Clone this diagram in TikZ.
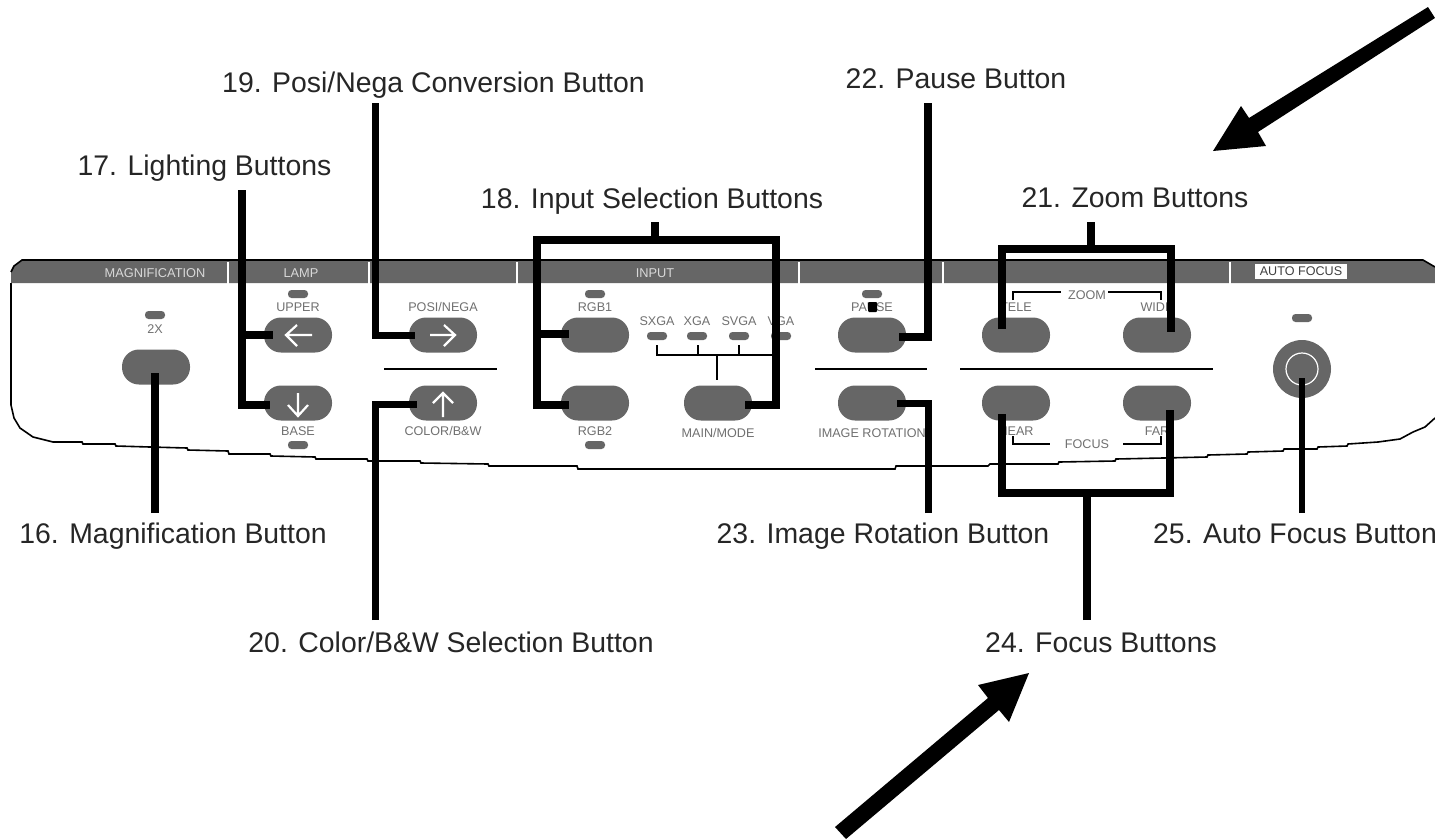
\documentclass[tikz,border=0pt]{standalone}
\usepackage{fontspec}
\setmainfont{Liberation Sans}
\definecolor{panelgray}{HTML}{666666}
\definecolor{labelgray}{HTML}{707070}
\tikzset{
  callout/.style={font=\fontsize{28.4}{30}\selectfont, text=black!85, inner sep=0pt, anchor=base},
  pill/.style={fill=panelgray, rounded corners=17pt, minimum width=68pt, minimum height=35pt, inner sep=0pt},
  led/.style={fill=panelgray, rounded corners=3.5pt, minimum width=20pt, minimum height=8pt, inner sep=0pt},
  tiny/.style={font=\fontsize{12.6}{13}\selectfont, text=labelgray, inner sep=0pt},
  bandtext/.style={font=\fontsize{12.8}{13}\selectfont, text=white!85!black, inner sep=0pt},
  leader/.style={draw=black, line width=8pt, line cap=butt, line join=miter},
  thin/.style={draw=black, line width=1.8pt},
  glyph/.style={draw=white, line width=2.2pt},
  bigarrow/.style={draw=none, fill=black},
}
\begin{document}
\begin{tikzpicture}[x=1pt,y=-1pt]
\useasboundingbox (0,0) rectangle (1435,839);
\fill[white] (0,0) rectangle (1435,839);
% panel outline
\draw[draw=black,line width=1.6pt]
  (11,283) -- (11,405) -- (14,418) -- (20,428) -- (33,437) -- (53,442)
  -- (82,442) -- (83,444) -- (115,444) -- (116,446) -- (150,447) -- (187,448) -- (188,450)
  -- (228,451) -- (229,454) -- (270,454) -- (271,456) -- (315,457) -- (316,459)
  -- (367,459) -- (368,461) -- (420,461) -- (421,463) -- (488,464) -- (489,466) -- (577,466) -- (578,469)
  -- (895,469) -- (896,466) -- (988,466) -- (990,464) -- (1058,464) -- (1059,462)
  -- (1115,461) -- (1116,459) -- (1163,458) -- (1207,457) -- (1208,455) -- (1247,454)
  -- (1248,452) -- (1283,451) -- (1284,449) -- (1317,449) -- (1318,447) -- (1347,446)
  -- (1348,444) -- (1378,442) -- (1400,439) -- (1413,432) -- (1425,427) -- (1435,418);
% band
\fill[panelgray] (11,283) -- (11,272) -- (14,266) -- (22,260) -- (1423,260) -- (1435,267) -- (1435,283) -- cycle;
\draw[black,line width=1.6pt] (11,272) -- (14,266) -- (22,260) -- (1423,260) -- (1435,267);
\foreach \px in {228,369,517,799,943,1230}
  \fill[white] (\px-1.2,262) rectangle (\px+1.2,284);
\node[bandtext] (tMag) at (155,273) {MAGNIFICATION};
\node[bandtext] (tLamp) at (301,273) {LAMP};
\node[bandtext] (tInput) at (655,273) {INPUT};
\node[fill=white,inner xsep=3pt,inner ysep=2pt,font=\fontsize{12.6}{13}\selectfont,text=black!75,minimum width=92pt,minimum height=15pt] (tAuto) at (1301,271) {AUTO FOCUS};
% buttons
\node[pill] (b2x) at (156,367) {};
\node[pill] (bUp) at (298,335) {};
\node[pill] (bDn) at (298,403) {};
\node[pill] (bPosi) at (443,335) {};
\node[pill] (bColor) at (443,403) {};
\node[pill] (bR1) at (595,335) {};
\node[pill] (bR2) at (595,403) {};
\node[pill] (bMain) at (718,403) {};
\node[pill] (bPause) at (872,335) {};
\node[pill] (bRot) at (872,403) {};
\node[pill] (bTele) at (1016,335) {};
\node[pill] (bWide) at (1157,335) {};
\node[pill] (bNear) at (1016,403) {};
\node[pill] (bFar) at (1157,403) {};
\node[circle,fill=panelgray,minimum size=58pt,inner sep=0pt] (bAF) at (1302,369) {};
\draw[white,line width=1.2pt] (bAF.center) circle (16);
% arrow glyphs on buttons
\draw[glyph] (312,335) -- (286,335) (297,325) -- (286,335) -- (297,346);
\draw[glyph] (430,335) -- (455,335) (444,325) -- (455,335) -- (444,346);
\draw[glyph] (298,393) -- (298,416) (288,405) -- (298,416) -- (308,405);
\draw[glyph] (443,417) -- (443,393) (433,403) -- (443,393) -- (453,403);
% LEDs
\node[led] (l2x) at (155,315) {};
\node[led] (lUp) at (298,294) {};
\node[led] (lBase) at (298,445) {};
\node[led] (lR1) at (595,294) {};
\node[led] (lR2) at (595,445) {};
\node[led] (lSX) at (657,336) {};
\node[led] (lX) at (697,336) {};
\node[led] (lSV) at (739,336) {};
\node[led] (lV) at (781,336) {};
\node[led] (lP) at (872,294) {};
\node[led] (lAF) at (1302,318) {};
% small labels
\node[tiny] (t2x) at (155,329) {2X};
\node[tiny] (tUpper) at (298,307) {UPPER};
\node[tiny] (tPosi) at (443,307) {POSI/NEGA};
\node[tiny] (tBase) at (298,431) {BASE};
\node[tiny] (tColor) at (443,431) {COLOR/B\&W};
\node[tiny] (tR1) at (595,307) {RGB1};
\node[tiny] (tR2) at (595,431) {RGB2};
\node[tiny] (tSX) at (657,321) {SXGA};
\node[tiny] (tX) at (697,321) {XGA};
\node[tiny] (tSV) at (739,321) {SVGA};
\node[tiny] (tV) at (781,321) {VGA};
\node[tiny] (tMain) at (718,433) {MAIN/MODE};
\node[tiny] (tPause) at (872,307) {PAUSE};
\node[tiny] (tRot) at (872,433) {IMAGE ROTATION};
\node[tiny] (tTele) at (1016,307) {TELE};
\node[tiny] (tWide) at (1157,307) {WIDE};
\node[tiny] (tNear) at (1016,431) {NEAR};
\node[tiny] (tFar) at (1157,431) {FAR};
\node[tiny] (tZoom) at (1087,295) {ZOOM};
\node[tiny] (tFocus) at (1087,444) {FOCUS};
% thin brackets
\draw[thin,line width=1.3pt] (1013,300) -- (1013,292) -- (1061,292);
\draw[thin,line width=1.3pt] (1108,292) -- (1161,292) -- (1161,300);
\draw[thin,line width=1.3pt] (1013,436) -- (1013,444) -- (1050,444);
\draw[thin,line width=1.3pt] (1123,444) -- (1161,444) -- (1161,436);
\draw[thin] (384,369) -- (497,369);
\draw[thin] (815,369) -- (927,369);
\draw[thin] (960,369) -- (1213,369);
\draw[thin] (657,345) -- (657,355) -- (773,355);
\draw[thin] (698,345) -- (698,355);
\draw[thin] (739,345) -- (739,355);
\draw[thin] (717,355) -- (717,380);
% callouts
\node[callout] (c16) at (173,543) {16. Magnification Button};
\node[callout] (c17) at (204.5,175) {17. Lighting Buttons};
\node[callout] (c18) at (652,208) {18. Input Selection Buttons};
\node[callout] (c19) at (433.5,92) {19. Posi/Nega Conversion Button};
\node[callout] (c20) at (451,652) {20. Color/B\&W Selection Button};
\node[callout] (c21) at (1135,207) {21. Zoom Buttons};
\node[callout] (c22) at (956,88) {22. Pause Button};
\node[callout] (c23) at (883,543) {23. Image Rotation Button};
\node[callout] (c24) at (1101,652) {24. Focus Buttons};
\node[callout] (c25) at (1295,543) {25. Auto Focus Button};
% leaders
\coordinate (a16) at (155,513);
\draw[leader] (a16) -- (155,373);
\draw[leader] (242,190) -- (242,404.5) -- (270,404.5);
\draw[leader] (242,335) -- (273,335);
\draw[leader,line width=7pt] (375,103) -- (375,335) -- (415,335);
\draw[leader,line width=7pt] (375,620) -- (375,404) -- (417,404);
\draw[leader] (655,222) -- (655,240);
\draw[leader] (569,404.5) -- (537,404.5) -- (537,240) -- (776,240) -- (776,404.5) -- (745,404.5);
\draw[leader] (537,334) -- (569,334);
\draw[leader] (928,103) -- (928,337) -- (899,337);
\draw[leader,line width=7pt] (928,513) -- (928,403) -- (897,403);
\draw[leader] (1091,222) -- (1091,249);
\draw[leader] (1002,329) -- (1002,249) -- (1171,249) -- (1171,332);
\draw[leader] (1087,620) -- (1087,493);
\draw[leader] (1002,414) -- (1002,493) -- (1170,493) -- (1170,410);
\draw[leader,line width=6pt] (1302,513) -- (1302,378);
\fill[black,rounded corners=1pt] (868,302) rectangle (877,312);
% big arrows
\fill[bigarrow] (1213,151) -- (1241,106) -- (1249,118) -- (1428,7) -- (1435,18) -- (1258,132) -- (1266,146) -- cycle;
\fill[bigarrow] (1029,673) -- (1009,722) -- (999,710) -- (846,839) -- (835,827) -- (988,698) -- (978,685) -- cycle;
\end{tikzpicture}
\end{document}
